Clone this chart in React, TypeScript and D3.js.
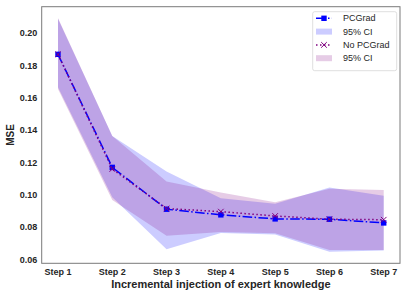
import * as d3 from 'd3';
import React, { useRef, useEffect } from 'react';

const steps = ['Step 1', 'Step 2', 'Step 3', 'Step 4', 'Step 5', 'Step 6', 'Step 7'];
const pcgradMean = [0.187, 0.117, 0.0911, 0.0876, 0.0851, 0.0849, 0.0826];
const pcgradLow = [0.1666, 0.0985, 0.0663, 0.0764, 0.0755, 0.0648, 0.0656];
const pcgradHigh = [0.209, 0.1365, 0.1144, 0.0979, 0.0944, 0.1045, 0.0995];
const noPcgradMean = [0.187, 0.116, 0.0915, 0.0896, 0.0869, 0.0849, 0.0846];
const noPcgradLow = [0.1656, 0.0968, 0.0746, 0.077, 0.0762, 0.0659, 0.0659];
const noPcgradHigh = [0.2095, 0.1365, 0.1082, 0.1014, 0.0954, 0.1037, 0.103];
const yTicks = [0.06, 0.08, 0.1, 0.12, 0.14, 0.16, 0.18, 0.2];
const legendLabels = ['PCGrad', '95% CI', 'No PCGrad', '95% CI'];

function App() {
  const svgRef = useRef(null);

  useEffect(() => {
    const width = 407,
      height = 296;
    const margin = { top: 6.7, right: 7, bottom: 32.7, left: 41.7 };
    const font = '"Liberation Sans", Arial, sans-serif';

    const svg = d3.select(svgRef.current).attr('width', width).attr('height', height);
    svg.selectAll('*').remove();

    const idx = d3.range(steps.length);
    // x: categorical positions with matplotlib-like 5% margins
    const x = d3
      .scaleLinear()
      .domain([-0.3, steps.length - 1 + 0.3])
      .range([margin.left, width - margin.right]);
    const y = d3
      .scaleLinear()
      .domain([0.0576, 0.2165])
      .range([height - margin.bottom, margin.top]);

    const band = (lo, hi) =>
      d3
        .area()
        .x((i) => x(i))
        .y0((i) => y(lo[i]))
        .y1((i) => y(hi[i]))(idx);
    const line = (vals) =>
      d3
        .line()
        .x((i) => x(i))
        .y((i) => y(vals[i]))(idx);

    // confidence bands
    svg.append('path').attr('d', band(pcgradLow, pcgradHigh)).attr('fill', 'blue').attr('fill-opacity', 0.2);
    svg.append('path').attr('d', band(noPcgradLow, noPcgradHigh)).attr('fill', 'purple').attr('fill-opacity', 0.2);

    // PCGrad line
    svg
      .append('path')
      .attr('d', line(pcgradMean))
      .attr('fill', 'none')
      .attr('stroke', 'blue')
      .attr('stroke-width', 1.5)
      .attr('stroke-dasharray', '9.6,2.4,1.5,2.4');
    svg
      .selectAll('rect.pc')
      .data(idx)
      .join('rect')
      .attr('class', 'pc')
      .attr('x', (i) => x(i) - 2.7)
      .attr('y', (i) => y(pcgradMean[i]) - 2.7)
      .attr('width', 5.4)
      .attr('height', 5.4)
      .attr('fill', 'blue');

    // No PCGrad line
    svg
      .append('path')
      .attr('d', line(noPcgradMean))
      .attr('fill', 'none')
      .attr('stroke', 'purple')
      .attr('stroke-width', 1.5)
      .attr('stroke-dasharray', '1.5,2.5');
    const cross = (g, cx, cy, r) =>
      g
        .append('path')
        .attr('d', `M${cx - r},${cy - r}L${cx + r},${cy + r}M${cx - r},${cy + r}L${cx + r},${cy - r}`)
        .attr('stroke', 'purple')
        .attr('stroke-width', 1)
        .attr('fill', 'none');
    idx.forEach((i) => cross(svg, x(i), y(noPcgradMean[i]), 2.8));

    // frame
    svg
      .append('rect')
      .attr('x', margin.left)
      .attr('y', margin.top)
      .attr('width', width - margin.left - margin.right)
      .attr('height', height - margin.top - margin.bottom)
      .attr('fill', 'none')
      .attr('stroke', '#7a7a7a')
      .attr('stroke-width', 1);

    // tick labels
    svg
      .selectAll('text.yt')
      .data(yTicks)
      .join('text')
      .attr('class', 'yt')
      .attr('x', margin.left - 4.5)
      .attr('y', (d) => y(d))
      .attr('dy', '0.35em')
      .attr('text-anchor', 'end')
      .attr('font-family', font)
      .attr('font-weight', 'bold')
      .attr('font-size', 9)
      .attr('fill', '#262626')
      .text((d) => d.toFixed(2));
    svg
      .selectAll('text.xt')
      .data(idx)
      .join('text')
      .attr('class', 'xt')
      .attr('x', (i) => x(i))
      .attr('y', height - margin.bottom + 11.5)
      .attr('text-anchor', 'middle')
      .attr('font-family', font)
      .attr('font-weight', 'bold')
      .attr('font-size', 9)
      .attr('fill', '#262626')
      .text((i) => steps[i]);

    // axis titles
    svg
      .append('text')
      .attr('x', (margin.left + width - margin.right) / 2)
      .attr('y', 288)
      .attr('text-anchor', 'middle')
      .attr('font-family', font)
      .attr('font-weight', 'bold')
      .attr('font-size', 11)
      .attr('fill', '#262626')
      .text('Incremental injection of expert knowledge');
    svg
      .append('text')
      .attr('transform', `translate(14,${(margin.top + height - margin.bottom) / 2}) rotate(-90)`)
      .attr('text-anchor', 'middle')
      .attr('font-family', font)
      .attr('font-weight', 'bold')
      .attr('font-size', 10)
      .attr('fill', '#262626')
      .text('MSE');

    // legend
    const lg = svg.append('g');
    lg.append('rect')
      .attr('x', 312.7)
      .attr('y', 11.7)
      .attr('width', 84)
      .attr('height', 59)
      .attr('rx', 2)
      .attr('fill', 'white')
      .attr('fill-opacity', 0.8)
      .attr('stroke', '#d6d6d6')
      .attr('stroke-width', 0.8);
    const rowY = [18.3, 31.6, 44.9, 58.2];
    const hx0 = 316,
      hx1 = 332;
    // PCGrad handle
    lg.append('line')
      .attr('x1', hx0)
      .attr('x2', hx1)
      .attr('y1', rowY[0])
      .attr('y2', rowY[0])
      .attr('stroke', 'blue')
      .attr('stroke-width', 1.5)
      .attr('stroke-dasharray', '9.6,2.4,1.5,2.4');
    lg.append('rect')
      .attr('x', (hx0 + hx1) / 2 - 2.7)
      .attr('y', rowY[0] - 2.7)
      .attr('width', 5.4)
      .attr('height', 5.4)
      .attr('fill', 'blue');
    lg.append('rect')
      .attr('x', hx0)
      .attr('y', rowY[1] - 3)
      .attr('width', hx1 - hx0)
      .attr('height', 6)
      .attr('fill', 'blue')
      .attr('fill-opacity', 0.2);
    lg.append('line')
      .attr('x1', hx0)
      .attr('x2', hx1)
      .attr('y1', rowY[2])
      .attr('y2', rowY[2])
      .attr('stroke', 'purple')
      .attr('stroke-width', 1.5)
      .attr('stroke-dasharray', '1.5,2.5');
    cross(lg, (hx0 + hx1) / 2, rowY[2], 2.8);
    lg.append('rect')
      .attr('x', hx0)
      .attr('y', rowY[3] - 3)
      .attr('width', hx1 - hx0)
      .attr('height', 6)
      .attr('fill', 'purple')
      .attr('fill-opacity', 0.2);
    lg.selectAll('text')
      .data(legendLabels)
      .join('text')
      .attr('x', 343)
      .attr('y', (d, i) => rowY[i])
      .attr('dy', '0.35em')
      .attr('font-family', font)
      .attr('font-size', 9)
      .attr('fill', '#262626')
      .text((d) => d);
  }, []);

  return (
    <>
      <svg ref={svgRef} style={{ position: 'absolute', left: 0, top: 0 }}></svg>
    </>
  );
}

export default App;
